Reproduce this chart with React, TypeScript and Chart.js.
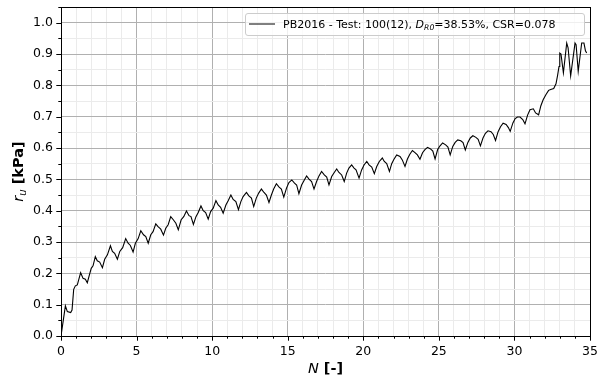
import React, { useEffect, useRef } from 'react';
import { Chart, registerables } from 'chart.js';

Chart.register(...registerables);

// Number of cycles N [-]
const cycleN: number[] = [
  0, 0.29, 0.42, 0.64, 0.73, 0.84, 0.95,
  1.08, 1.3, 1.46, 1.61, 1.74, 1.88,
  2.0, 2.12, 2.27, 2.4, 2.56, 2.74, 2.89,
  3.07, 3.27, 3.4, 3.55, 3.73, 3.89,
  4.08, 4.28, 4.44, 4.59, 4.77, 4.92,
  5.1, 5.28, 5.46, 5.61, 5.77, 5.94,
  6.09, 6.27, 6.42, 6.6, 6.78, 6.93,
  7.09, 7.26, 7.43, 7.6, 7.76, 7.95,
  8.12, 8.3, 8.47, 8.6, 8.76, 8.93,
  9.08, 9.26, 9.41, 9.57, 9.74, 9.9,
  10.07, 10.25, 10.4, 10.56, 10.73, 10.91,
  11.06, 11.24, 11.39, 11.57, 11.74, 11.9,
  12.05, 12.27, 12.43, 12.6, 12.75, 12.92,
  13.08, 13.26, 13.43, 13.59, 13.76, 13.92,
  14.07, 14.25, 14.43, 14.58, 14.74, 14.92,
  15.08, 15.27, 15.45, 15.59, 15.74, 15.92,
  16.1, 16.25, 16.41, 16.58, 16.74, 16.91,
  17.07, 17.24, 17.42, 17.58, 17.73, 17.91,
  18.08, 18.24, 18.39, 18.57, 18.74, 18.9,
  19.05, 19.23, 19.39, 19.52, 19.72, 19.89,
  20.05, 20.23, 20.38, 20.56, 20.73, 20.89,
  21.06, 21.26, 21.39, 21.55, 21.73, 21.88,
  22.03, 22.21, 22.43, 22.58, 22.76, 22.92,
  23.08, 23.25, 23.42, 23.58, 23.75, 23.92,
  24.08, 24.25, 24.45, 24.6, 24.75, 24.92,
  25.08, 25.25, 25.45, 25.6, 25.75, 25.92,
  26.08, 26.25, 26.45, 26.6, 26.75, 26.92,
  27.08, 27.25, 27.45, 27.6, 27.75, 27.92,
  28.08, 28.25, 28.45, 28.6, 28.75, 28.92,
  29.08, 29.25, 29.45, 29.6, 29.72, 29.9,
  30.05, 30.2, 30.37, 30.55, 30.7, 30.87,
  31.03, 31.25, 31.4, 31.6, 31.75, 31.9,
  32.08, 32.26, 32.4, 32.6, 32.75, 32.85, 32.95,
  33.0, 33.08, 33.24, 33.46, 33.55, 33.72,
  34.01, 34.08, 34.22, 34.45, 34.6, 34.7, 34.78,
];

// Pore pressure ratio r_u
const poreRatio: number[] = [
  0, 0.096, 0.078, 0.075, 0.083, 0.149, 0.16,
  0.163, 0.202, 0.184, 0.181, 0.17, 0.195,
  0.216, 0.224, 0.253, 0.24, 0.236, 0.218, 0.245,
  0.259, 0.288, 0.27, 0.264, 0.245, 0.27,
  0.282, 0.311, 0.296, 0.289, 0.268, 0.296,
  0.31, 0.336, 0.323, 0.317, 0.296, 0.323,
  0.333, 0.358, 0.349, 0.341, 0.322, 0.344,
  0.355, 0.381, 0.371, 0.36, 0.339, 0.371,
  0.381, 0.399, 0.384, 0.381, 0.356, 0.381,
  0.394, 0.415, 0.4, 0.394, 0.373, 0.397,
  0.408, 0.432, 0.418, 0.411, 0.392, 0.418,
  0.432, 0.45, 0.436, 0.429, 0.403, 0.429,
  0.445, 0.458, 0.447, 0.44, 0.413, 0.44,
  0.456, 0.469, 0.458, 0.45, 0.426, 0.45,
  0.469, 0.486, 0.475, 0.469, 0.443, 0.472,
  0.49, 0.498, 0.488, 0.482, 0.454, 0.482,
  0.498, 0.511, 0.501, 0.493, 0.469, 0.493,
  0.511, 0.525, 0.514, 0.507, 0.482, 0.509,
  0.522, 0.533, 0.522, 0.514, 0.493, 0.52,
  0.536, 0.546, 0.536, 0.53, 0.504, 0.53,
  0.546, 0.557, 0.546, 0.539, 0.518, 0.541,
  0.557, 0.568, 0.557, 0.55, 0.525, 0.55,
  0.564, 0.578, 0.573, 0.562, 0.541, 0.565,
  0.58, 0.592, 0.585, 0.578, 0.564, 0.585,
  0.595, 0.602, 0.597, 0.59, 0.565, 0.595,
  0.607, 0.616, 0.61, 0.603, 0.578, 0.605,
  0.618, 0.626, 0.623, 0.617, 0.594, 0.618,
  0.632, 0.639, 0.634, 0.628, 0.607, 0.632,
  0.647, 0.655, 0.652, 0.643, 0.624, 0.652,
  0.668, 0.679, 0.675, 0.665, 0.653, 0.68,
  0.694, 0.699, 0.699, 0.691, 0.677, 0.705,
  0.722, 0.725, 0.712, 0.706, 0.735, 0.754,
  0.77, 0.784, 0.787, 0.79, 0.805, 0.83, 0.86,
  0.903, 0.9, 0.84, 0.935, 0.92, 0.83,
  0.935, 0.93, 0.845, 0.935, 0.935, 0.91, 0.903,
];

const xTickLabels: string[] = ['0', '5', '10', '15', '20', '25', '30', '35'];
const yTickLabels: string[] = ['0.0', '0.1', '0.2', '0.3', '0.4', '0.5', '0.6', '0.7', '0.8', '0.9', '1.0'];
const legendPrefix = 'PB2016 - Test: 100(12), ';
const legendSymbol = 'D';
const legendSub = 'R0';
const legendSuffix = '=38.53%, CSR=0.078';

const FONT = '"DejaVu Sans", sans-serif';
const MAJOR_GRID = '#b0b0b0';
const MINOR_GRID = '#ebebeb';

const isMajorX = (v: number) => xTickLabels.includes(String(Math.round(v))) && Math.abs(v - Math.round(v)) < 1e-6;
const yLabelFor = (v: number) => {
  const r = Math.round(v * 100);
  if (r % 10 !== 0) return '';
  const s = (r / 100).toFixed(1);
  return yTickLabels.includes(s) ? s : '';
};

type Seg = { t: string; font: string; dy?: number };

function drawSegs(ctx: CanvasRenderingContext2D, segs: Seg[], cx: number, baseline: number) {
  let total = 0;
  for (const s of segs) {
    ctx.font = s.font;
    total += ctx.measureText(s.t).width;
  }
  let x = cx - total / 2;
  for (const s of segs) {
    ctx.font = s.font;
    ctx.fillText(s.t, x, baseline + (s.dy || 0));
    x += ctx.measureText(s.t).width;
  }
}

const decorPlugin = {
  id: 'decor',
  afterDraw(chart: any) {
    const ctx: CanvasRenderingContext2D = chart.ctx;
    const { left, right, top, bottom } = chart.chartArea;
    const xs = chart.scales.x;
    const ys = chart.scales.y;
    ctx.save();
    // spines
    ctx.strokeStyle = '#000';
    ctx.lineWidth = 1;
    ctx.strokeRect(Math.round(left) + 0.5, Math.round(top) + 0.5, Math.round(right) - Math.round(left), Math.round(bottom) - Math.round(top));
    // tick marks
    ctx.beginPath();
    for (const t of xs.ticks) {
      const px = Math.round(xs.getPixelForValue(t.value)) + 0.5;
      const len = isMajorX(t.value) && Math.round(t.value) % 5 === 0 ? 4.7 : 2.7;
      ctx.moveTo(px, bottom);
      ctx.lineTo(px, bottom + len);
    }
    for (const t of ys.ticks) {
      const py = Math.round(ys.getPixelForValue(t.value)) + 0.5;
      const len = yLabelFor(t.value) ? 4.7 : 2.7;
      ctx.moveTo(left, py);
      ctx.lineTo(left - len, py);
    }
    ctx.stroke();

    // axis titles
    ctx.fillStyle = '#000';
    ctx.textBaseline = 'alphabetic';
    ctx.textAlign = 'left';
    drawSegs(ctx, [
      { t: 'N', font: `italic 14.5px ${FONT}` },
      { t: ' [-]', font: `bold 14.5px ${FONT}` },
    ], (left + right) / 2, 373);

    ctx.save();
    ctx.translate(23, (top + bottom) / 2);
    ctx.rotate(-Math.PI / 2);
    drawSegs(ctx, [
      { t: 'r', font: `italic 14.5px ${FONT}` },
      { t: 'u', font: `italic 10px ${FONT}`, dy: 3 },
      { t: ' [kPa]', font: `bold 14.5px ${FONT}` },
    ], 0, 0);
    ctx.restore();

    // legend
    const lx0 = 245.5, lx1 = 584.5, ly0 = 13.5, ly1 = 35.5, r = 2.5;
    ctx.beginPath();
    ctx.moveTo(lx0 + r, ly0);
    ctx.lineTo(lx1 - r, ly0);
    ctx.quadraticCurveTo(lx1, ly0, lx1, ly0 + r);
    ctx.lineTo(lx1, ly1 - r);
    ctx.quadraticCurveTo(lx1, ly1, lx1 - r, ly1);
    ctx.lineTo(lx0 + r, ly1);
    ctx.quadraticCurveTo(lx0, ly1, lx0, ly1 - r);
    ctx.lineTo(lx0, ly0 + r);
    ctx.quadraticCurveTo(lx0, ly0, lx0 + r, ly0);
    ctx.closePath();
    ctx.fillStyle = 'rgba(255,255,255,0.8)';
    ctx.fill();
    ctx.strokeStyle = '#cccccc';
    ctx.stroke();

    ctx.beginPath();
    ctx.strokeStyle = '#000';
    ctx.lineWidth = 1;
    ctx.moveTo(249, 24);
    ctx.lineTo(275, 24);
    ctx.stroke();

    ctx.fillStyle = '#000';
    let x = 283;
    const base = 27.5;
    const parts: Seg[] = [
      { t: legendPrefix, font: `11px ${FONT}` },
      { t: legendSymbol, font: `italic 11px ${FONT}` },
      { t: legendSub, font: `italic 7.7px ${FONT}`, dy: 2 },
      { t: legendSuffix, font: `11px ${FONT}` },
    ];
    for (const p of parts) {
      ctx.font = p.font;
      ctx.fillText(p.t, x, base + (p.dy || 0));
      x += ctx.measureText(p.t).width;
    }
    ctx.restore();
  },
};

const zeroPadding = (s: any) => {
  s.paddingTop = 0;
  s.paddingBottom = 0;
  s.paddingLeft = 0;
  s.paddingRight = 0;
};

export default function App() {
  const ref = useRef<HTMLCanvasElement | null>(null);
  useEffect(() => {
    document.body.style.margin = '0';
    const canvas = ref.current;
    if (!canvas) return;
    const points = cycleN.map((n, i) => ({ x: n, y: poreRatio[i] }));
    const chart = new Chart(canvas, {
      type: 'line',
      data: {
        datasets: [
          {
            label: legendPrefix + legendSymbol + legendSub + legendSuffix,
            data: points,
            borderColor: '#000',
            borderWidth: 1.1,
            pointRadius: 0,
            tension: 0,
            fill: false,
          },
        ],
      },
      options: {
        animation: false,
        responsive: false,
        devicePixelRatio: 1,
        layout: { padding: { top: 7, right: 8, left: 0, bottom: 0 } },
        plugins: { legend: { display: false }, tooltip: { enabled: false }, title: { display: false } },
        scales: {
          x: {
            type: 'linear',
            min: 0,
            max: 35,
            border: { display: false },
            grid: {
              drawTicks: false,
              color: (c: any) => (c.tick && Math.round(c.tick.value) % 5 === 0 ? MAJOR_GRID : MINOR_GRID),
              lineWidth: 1,
            },
            ticks: {
              stepSize: 1,
              autoSkip: false,
              maxRotation: 0,
              padding: 8,
              color: '#000',
              font: { family: FONT, size: 12.5 },
              callback: (v: any) => (isMajorX(Number(v)) && Math.round(Number(v)) % 5 === 0 ? String(Math.round(Number(v))) : ''),
            },
            afterFit: (s: any) => {
              s.height = 45;
              zeroPadding(s);
            },
          },
          y: {
            type: 'linear',
            min: 0,
            max: 1.05,
            border: { display: false },
            grid: {
              drawTicks: false,
              color: (c: any) => (c.tick && yLabelFor(c.tick.value) ? MAJOR_GRID : MINOR_GRID),
              lineWidth: 1,
            },
            ticks: {
              stepSize: 0.05,
              autoSkip: false,
              padding: 8,
              color: '#000',
              font: { family: FONT, size: 12.5 },
              callback: (v: any) => yLabelFor(Number(v)),
            },
            afterFit: (s: any) => {
              s.width = 61;
              zeroPadding(s);
            },
          },
        },
      },
      plugins: [decorPlugin],
    });
    return () => chart.destroy();
  }, []);
  return <canvas ref={ref} width={598} height={381} style={{ display: 'block' }} />;
}
